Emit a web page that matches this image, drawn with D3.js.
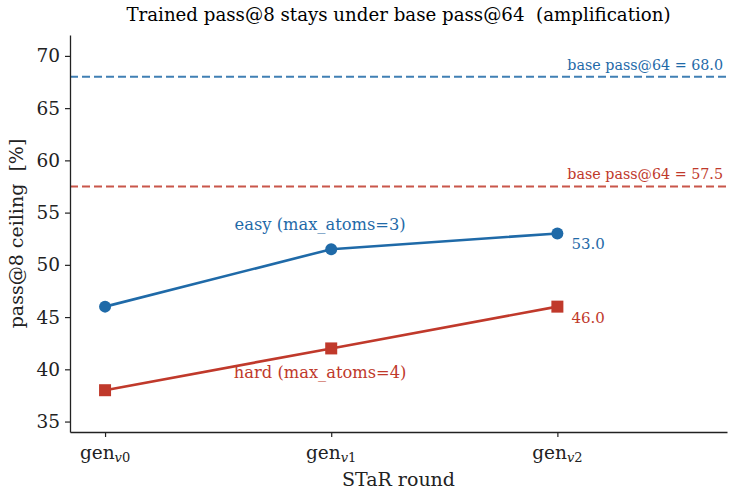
<!DOCTYPE html>
<html>
<head>
<meta charset="utf-8">
<script src="https://cdn.jsdelivr.net/npm/d3@7"></script>
<style>
  body { margin: 0; background: #fff; }
  text { font-family: "DejaVu Serif", serif; white-space: pre; }
</style>
</head>
<body>
<script>
// chart data
var rounds = ["v0", "v1", "v2"];
var easyVals = [46.0, 51.5, 53.0];
var hardVals = [38.0, 42.0, 46.0];
var baseEasy = 68.0;
var baseHard = 57.5;
var yTicks = [35, 40, 45, 50, 55, 60, 65, 70];

var W = 735, H = 493;
var blue = "#1f6aa8", red = "#c0392b";

var svg = d3.select("body").append("svg")
    .attr("width", W)
    .attr("height", H);

// plot area
var pLeft = 70, pRight = 727, pTop = 35, pBottom = 432;

var x = d3.scaleLinear().domain([-0.155, 2.75]).range([pLeft, pRight]);
var y = d3.scaleLinear().domain([34, 72]).range([pBottom, pTop]);

// title
svg.append("text")
    .attr("x", (pLeft + pRight) / 2)
    .attr("y", 21)
    .attr("text-anchor", "middle")
    .style("font-size", "18.2px")
    .text("Trained pass@8 stays under base pass@64  (amplification)");

// baselines
svg.append("line")
    .attr("x1", pLeft).attr("x2", pRight)
    .attr("y1", y(baseEasy)).attr("y2", y(baseEasy))
    .style("stroke", blue).style("stroke-width", 2)
    .style("stroke-dasharray", "8,4").style("opacity", 0.85);
svg.append("line")
    .attr("x1", pLeft).attr("x2", pRight)
    .attr("y1", y(baseHard)).attr("y2", y(baseHard))
    .style("stroke", red).style("stroke-width", 2)
    .style("stroke-dasharray", "8,4").style("opacity", 0.85);

svg.append("text")
    .attr("x", pRight - 4).attr("y", y(baseEasy) - 7)
    .attr("text-anchor", "end")
    .style("font-size", "14.3px").style("fill", blue)
    .text("base pass@64 = " + baseEasy.toFixed(1));
svg.append("text")
    .attr("x", pRight - 4).attr("y", y(baseHard) - 7)
    .attr("text-anchor", "end")
    .style("font-size", "14.3px").style("fill", red)
    .text("base pass@64 = " + baseHard.toFixed(1));

// series lines
var line = d3.line()
    .x(function(d, i){ return x(i); })
    .y(function(d){ return y(d); });

svg.append("path")
    .datum(easyVals)
    .attr("d", line)
    .style("fill", "none").style("stroke", blue).style("stroke-width", 2.6);
svg.append("path")
    .datum(hardVals)
    .attr("d", line)
    .style("fill", "none").style("stroke", red).style("stroke-width", 2.6);

svg.selectAll("circle.easy")
    .data(easyVals)
    .enter().append("circle")
    .attr("class", "easy")
    .attr("cx", function(d, i){ return x(i); })
    .attr("cy", function(d){ return y(d); })
    .attr("r", 6)
    .style("fill", blue);

svg.selectAll("rect.hard")
    .data(hardVals)
    .enter().append("rect")
    .attr("class", "hard")
    .attr("x", function(d, i){ return x(i) - 6; })
    .attr("y", function(d){ return y(d) - 6; })
    .attr("width", 12).attr("height", 12)
    .style("fill", red);

// series labels
svg.append("text")
    .attr("x", (x(0) + x(1)) / 2 + 102).attr("y", y(easyVals[1]) - 19)
    .attr("text-anchor", "middle")
    .style("font-size", "16.3px").style("fill", blue)
    .text("easy (max_atoms=3)");
svg.append("text")
    .attr("x", (x(0) + x(1)) / 2 + 102).attr("y", y(hardVals[1]) + 30)
    .attr("text-anchor", "middle")
    .style("font-size", "16.3px").style("fill", red)
    .text("hard (max_atoms=4)");

svg.append("text")
    .attr("x", x(2) + 14).attr("y", y(easyVals[2]) + 15)
    .style("font-size", "15px").style("fill", blue)
    .text(easyVals[2].toFixed(1));
svg.append("text")
    .attr("x", x(2) + 14).attr("y", y(hardVals[2]) + 16)
    .style("font-size", "15px").style("fill", red)
    .text(hardVals[2].toFixed(1));

// axes
var yAxis = svg.append("g")
    .attr("transform", "translate(" + pLeft + ",0)")
    .call(d3.axisLeft(y).tickValues(yTicks).tickSize(5).tickSizeOuter(0).tickPadding(5));
yAxis.selectAll("text").style("font-size", "18.5px").style("font-family", "DejaVu Serif").attr("fill", "#222");

var xAxis = svg.append("g")
    .attr("transform", "translate(0," + pBottom + ")")
    .call(d3.axisBottom(x).tickValues([0, 1, 2]).tickSize(5).tickSizeOuter(0).tickFormat(""));

[yAxis, xAxis].forEach(function(g){
  g.select(".domain").style("stroke", "#222").style("stroke-width", 1.3);
  g.selectAll(".tick line").style("stroke", "#222").style("stroke-width", 1.2);
});

// x tick labels with subscript
rounds.forEach(function(r, i){
  var t = svg.append("text")
      .attr("x", x(i)).attr("y", pBottom + 27)
      .attr("text-anchor", "middle")
      .style("font-size", "18.5px").style("fill", "#222");
  t.append("tspan").text("gen");
  t.append("tspan")
      .attr("dy", 3)
      .style("font-size", "13px")
      .style("font-style", "italic")
      .text(r.charAt(0));
  t.append("tspan")
      .style("font-size", "13px")
      .text(r.slice(1));
});

// axis titles
svg.append("text")
    .attr("x", (pLeft + pRight) / 2).attr("y", 486)
    .attr("text-anchor", "middle")
    .style("font-size", "19px").style("fill", "#222")
    .text("STaR round");

svg.append("text")
    .attr("transform", "translate(23," + ((pTop + pBottom) / 2) + ") rotate(-90)")
    .attr("text-anchor", "middle")
    .style("font-size", "19px").style("fill", "#222")
    .text("pass@8 ceiling  [%]");
</script>
</body>
</html>
